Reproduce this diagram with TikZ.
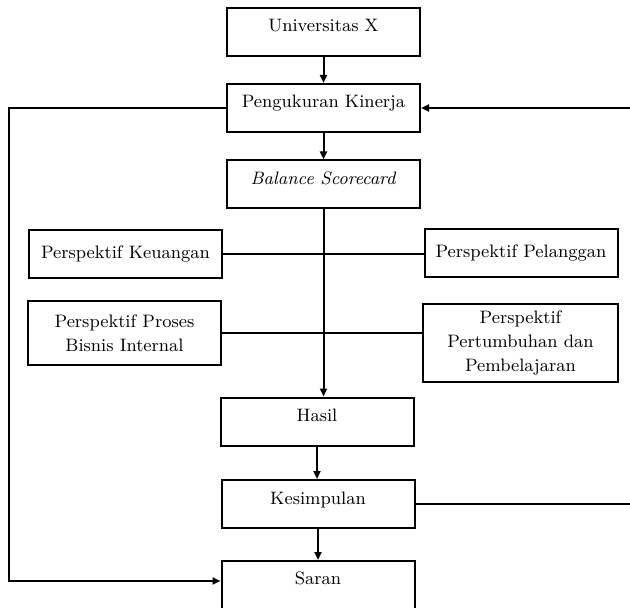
\documentclass[tikz,border=0pt]{standalone}
\usetikzlibrary{arrows.meta}
\tikzset{
  kotak/.style={draw, line width=1pt, minimum width=96.5pt, minimum height=24pt, align=center, font=\fontsize{9}{12}\selectfont},
  atas/.style={text height=6pt, text depth=6pt},
  panah/.style={line width=1pt, -{Triangle[length=4pt,width=3.5pt]}},
  garis/.style={line width=1pt}
}
\begin{document}
\begin{tikzpicture}[x=0.5pt, y=-0.5pt]
        \useasboundingbox (0,0) rectangle (630,608);
        % Kotak utama
        \node[kotak, atas] (univ) at (323.5,32) {Universitas X};
        \node[kotak, atas] (ukur) at (323.5,108) {Pengukuran Kinerja};
        \node[kotak, atas] (bsc) at (323.5,184.5) {\textit{Balance Scorecard}};
        % Perspektif
        \node[kotak] (keu) at (125.5,254) {Perspektif Keuangan};
        \node[kotak] (pel) at (521,253) {Perspektif Pelanggan};
        \node[kotak, minimum height=31.5pt] (proses) at (124.5,333) {Perspektif Proses\\Bisnis Internal};
        \node[kotak, minimum height=39pt, minimum width=97.5pt] (tumbuh) at (520.5,343) {Perspektif\\Pertumbuhan dan\\Pembelajaran};
        % Hasil
        \node[kotak, atas] (hasil) at (317,421.5) {Hasil};
        \node[kotak, atas] (kes) at (318,504) {Kesimpulan};
        \node[kotak, text height=6pt, text depth=11pt, minimum height=28pt] (saran) at (318,589) {Saran};
        % Titik belok
        \coordinate (belok) at (9,581);
        \coordinate (balik) at (645,504);
        % Panah
        \draw[panah] (univ) -- (ukur);
        \draw[panah] (ukur) -- (bsc);
        \draw[panah] (bsc.south) -- (bsc.south |- hasil.north);
        \draw[panah] (hasil.south) -- (hasil.south |- kes.north);
        \draw[panah] (kes.south) -- (kes.south |- saran.north);
        \draw[garis] (keu.east) -- (keu.east -| pel.west);
        \draw[garis] (proses.east) -- (proses.east -| tumbuh.west);
        \draw[panah] (ukur.west) -| (belok) -- (belok -| saran.west);
        \draw[panah] (kes.east) -- (balik) |- (ukur.east);
\end{tikzpicture}
\end{document}
